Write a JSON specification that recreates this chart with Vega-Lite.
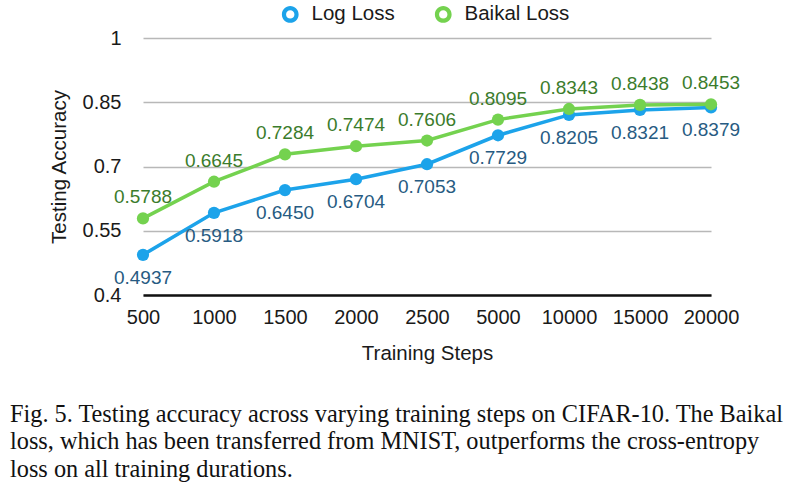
{
  "$schema": "https://vega.github.io/schema/vega-lite/v6.json",
  "width": 568,
  "height": 257,
  "autosize": "none",
  "padding": {"left": 143, "top": 38, "right": 82, "bottom": 191},
  "background": "white",
  "config": {
    "view": {"stroke": null},
    "font": "Liberation Sans"
  },
  "title": {
    "text": [
      "Fig. 5.  Testing accuracy across varying training steps on CIFAR-10. The Baikal",
      "loss, which has been transferred from MNIST, outperforms the cross-entropy",
      "loss on all training durations."
    ],
    "orient": "bottom",
    "anchor": "start",
    "frame": "group",
    "font": "Liberation Serif",
    "fontSize": 24.3,
    "fontWeight": "normal",
    "color": "#111111",
    "lineHeight": 27.5,
    "dx": -133,
    "offset": 39
  },
  "data": {
    "values": [
      {"step": "500", "series": "Log Loss", "acc": 0.4937},
      {"step": "1000", "series": "Log Loss", "acc": 0.5918},
      {"step": "1500", "series": "Log Loss", "acc": 0.6450},
      {"step": "2000", "series": "Log Loss", "acc": 0.6704},
      {"step": "2500", "series": "Log Loss", "acc": 0.7053},
      {"step": "5000", "series": "Log Loss", "acc": 0.7729},
      {"step": "10000", "series": "Log Loss", "acc": 0.8205},
      {"step": "15000", "series": "Log Loss", "acc": 0.8321},
      {"step": "20000", "series": "Log Loss", "acc": 0.8379},
      {"step": "500", "series": "Baikal Loss", "acc": 0.5788},
      {"step": "1000", "series": "Baikal Loss", "acc": 0.6645},
      {"step": "1500", "series": "Baikal Loss", "acc": 0.7284},
      {"step": "2000", "series": "Baikal Loss", "acc": 0.7474},
      {"step": "2500", "series": "Baikal Loss", "acc": 0.7606},
      {"step": "5000", "series": "Baikal Loss", "acc": 0.8095},
      {"step": "10000", "series": "Baikal Loss", "acc": 0.8343},
      {"step": "15000", "series": "Baikal Loss", "acc": 0.8438},
      {"step": "20000", "series": "Baikal Loss", "acc": 0.8453}
    ]
  },
  "encoding": {
    "x": {
      "field": "step",
      "type": "ordinal",
      "sort": ["500", "1000", "1500", "2000", "2500", "5000", "10000", "15000", "20000"],
      "scale": {"type": "point", "padding": 0},
      "title": "Training Steps",
      "axis": {
        "labelAngle": 0,
        "labelFontSize": 20,
        "labelColor": "#1a1a1a",
        "labelPadding": 12,
        "ticks": false,
        "grid": false,
        "domain": true,
        "domainColor": "#111111",
        "domainWidth": 2.5,
        "titleFontSize": 20.5,
        "titleFontWeight": "normal",
        "titleColor": "#1a1a1a",
        "titlePadding": 16
      }
    },
    "y": {
      "field": "acc",
      "type": "quantitative",
      "scale": {"domain": [0.4, 1], "nice": false, "zero": false},
      "title": "Testing Accuracy",
      "axis": {
        "values": [0.4, 0.55, 0.7, 0.85, 1],
        "format": ".2~f",
        "labelFontSize": 20,
        "labelColor": "#1a1a1a",
        "labelPadding": 22,
        "ticks": false,
        "domain": false,
        "grid": true,
        "gridColor": "#b8b8b8",
        "gridWidth": 1.5,
        "titleFontSize": 20.5,
        "titleFontWeight": "normal",
        "titleColor": "#1a1a1a",
        "titlePadding": 13
      }
    },
    "color": {
      "field": "series",
      "type": "nominal",
      "scale": {"domain": ["Log Loss", "Baikal Loss"], "range": ["#1ca3ea", "#74d24f"]},
      "legend": {
        "title": null,
        "orient": "none",
        "legendX": 137,
        "legendY": -34,
        "direction": "horizontal",
        "symbolType": "M-1,0A1,1 0 1,1 1,0A1,1 0 1,1 -1,0Z M-0.5,0A0.5,0.5 0 1,0 0.5,0A0.5,0.5 0 1,0 -0.5,0Z",
        "symbolSize": 280,
        "symbolStrokeWidth": 0,
        "labelFontSize": 20.5,
        "labelColor": "#1a1a1a",
        "labelOffset": 11,
        "columnPadding": 38
      }
    }
  },
  "layer": [
    {"mark": {"type": "line", "strokeWidth": 3.5}},
    {"mark": {"type": "point", "filled": true, "opacity": 1, "size": 150}},
    {
      "transform": [{"filter": "datum.series === 'Log Loss'"}],
      "mark": {"type": "text", "fontSize": 19, "dy": 23, "baseline": "middle", "color": "#275b82"},
      "encoding": {
        "text": {"field": "acc", "type": "quantitative", "format": ".4f"},
        "color": {"value": "#275b82"}
      }
    },
    {
      "transform": [{"filter": "datum.series === 'Baikal Loss'"}],
      "mark": {"type": "text", "fontSize": 19, "dy": -21, "baseline": "middle", "color": "#3b7c2c"},
      "encoding": {
        "text": {"field": "acc", "type": "quantitative", "format": ".4f"},
        "color": {"value": "#3b7c2c"}
      }
    }
  ]
}
